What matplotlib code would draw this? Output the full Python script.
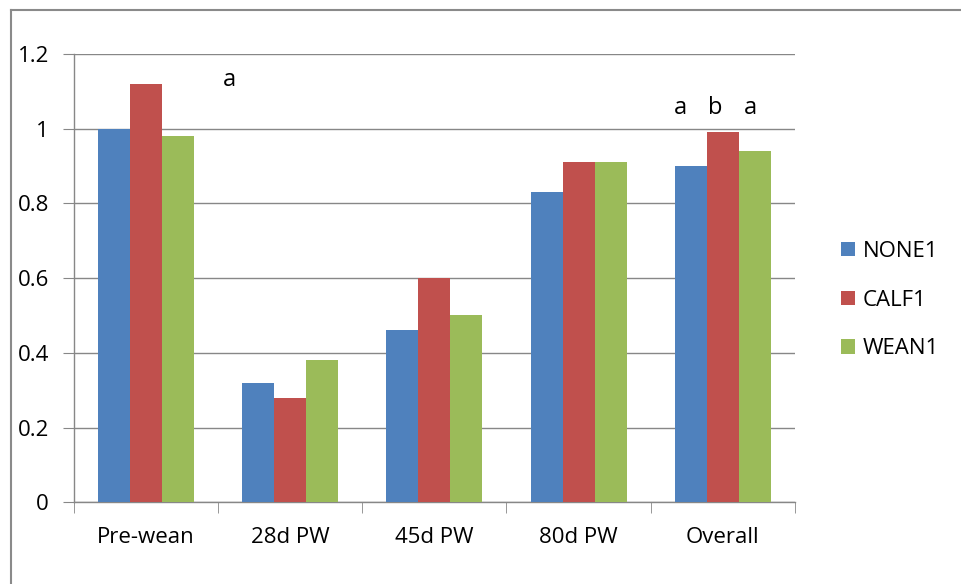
import numpy as np
import matplotlib.pyplot as plt
from matplotlib.lines import Line2D
from matplotlib.ticker import FixedLocator

plt.rcParams['font.family'] = ['Open Sans', 'DejaVu Sans']

categories = ['Pre-wean', '28d PW', '45d PW', '80d PW', 'Overall']
none1 = [1.00, 0.32, 0.46, 0.83, 0.90]
calf1 = [1.12, 0.28, 0.60, 0.91, 0.99]
wean1 = [0.98, 0.38, 0.50, 0.91, 0.94]
series_names = ['NONE1', 'CALF1', 'WEAN1']
colors = ['#4F81BD', '#C0504D', '#9BBB59']

# significance letters: (x in category units, y, text)
letters = [(0.58, 1.13, 'a'), (3.71, 1.055, 'a'), (3.95, 1.055, 'b'), (4.19, 1.055, 'a')]

fig = plt.figure(figsize=(9.61, 5.84), dpi=100)
ax = fig.add_axes([0.077, 0.140, 0.750, 0.7675])

x = np.arange(len(categories))
w = 0.222
for i, (vals, name, c) in enumerate(zip([none1, calf1, wean1], series_names, colors)):
    ax.bar(x + (i - 1) * w, vals, w, color=c, label=name, zorder=3)

ax.set_xlim(-0.5, len(categories) - 0.5)
ax.set_ylim(0, 1.2)
ax.set_yticks(np.arange(0, 1.21, 0.2))
ax.set_yticklabels(['0', '0.2', '0.4', '0.6', '0.8', '1', '1.2'])
ax.yaxis.grid(True, color='#878787', linewidth=1.0, zorder=0)

ax.set_xticks(x)
ax.set_xticklabels(categories)
ax.xaxis.set_minor_locator(FixedLocator(np.arange(-0.5, len(categories), 1.0)))
ax.tick_params(axis='x', which='major', length=0, pad=18, labelsize=16)
ax.tick_params(axis='x', which='minor', length=8, color='#878787', direction='out')
ax.tick_params(axis='y', length=8, color='#878787', pad=10, labelsize=16)

for s in ['top', 'right']:
    ax.spines[s].set_visible(False)
for s in ['left', 'bottom']:
    ax.spines[s].set_color('#878787')
    ax.spines[s].set_linewidth(1.0)

for lx, ly, t in letters:
    ax.text(lx, ly, t, ha='center', va='center', fontsize=17)

ax.legend(loc='center left', bbox_to_anchor=(1.064, 0.451), frameon=False,
          fontsize=16, handlelength=0.63, handleheight=0.63, labelspacing=1.25,
          handletextpad=0.35, borderpad=0, borderaxespad=0)

# outer frame lines (left and top)
fig.add_artist(Line2D([11 / 961, 11 / 961], [0, 1 - 10 / 584], color='#8a8a8a', lw=1.5,
                      transform=fig.transFigure))
fig.add_artist(Line2D([11 / 961, 1], [1 - 10 / 584, 1 - 10 / 584], color='#8a8a8a', lw=1.5,
                      transform=fig.transFigure))

fig.savefig('out.png', dpi=100)
